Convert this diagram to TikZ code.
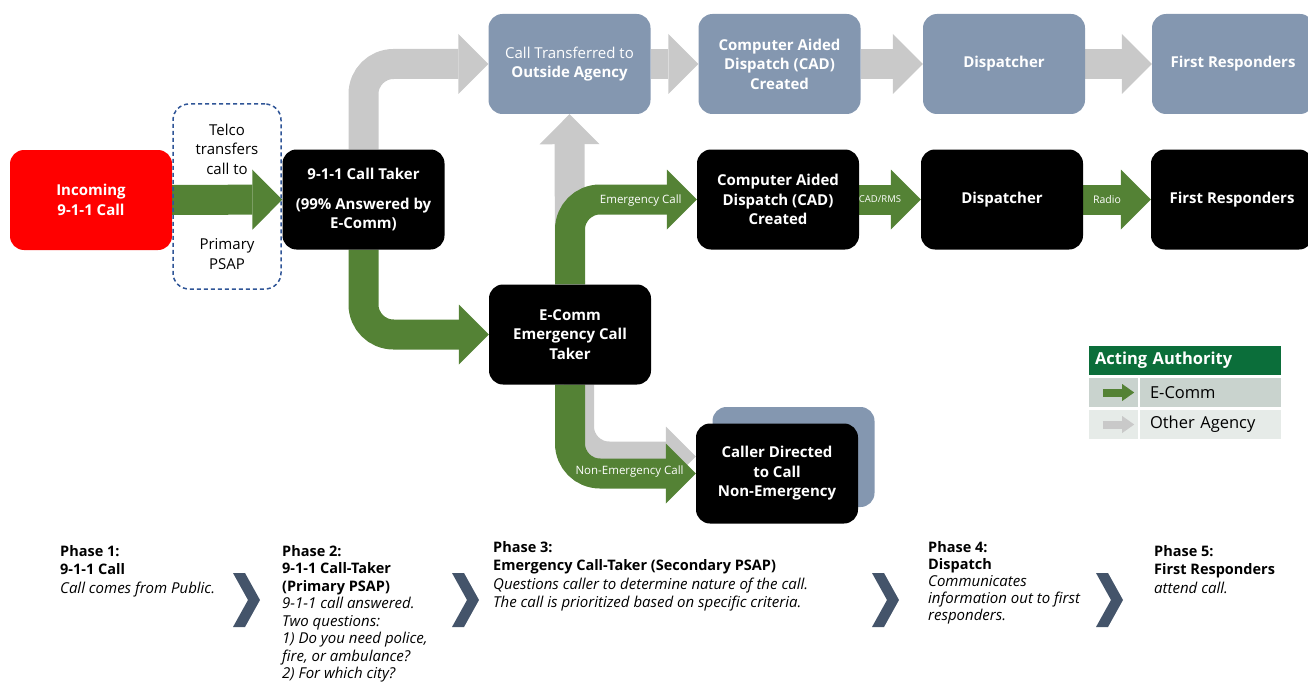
\documentclass[tikz,border=0pt]{standalone}
\usepackage{fontspec}
\setmainfont{Open Sans}
\usetikzlibrary{arrows.meta,calc}

\definecolor{ecommgreen}{HTML}{548235}
\definecolor{agencygray}{HTML}{C9C9C9}
\definecolor{agencyblue}{HTML}{8497B0}
\definecolor{psapblue}{HTML}{2F5597}
\definecolor{chevroncolor}{HTML}{44546A}
\definecolor{legendhead}{HTML}{0B6E3A}
\definecolor{legendrowa}{HTML}{C9D3CE}
\definecolor{legendrowb}{HTML}{E6EBE8}
\definecolor{callred}{HTML}{FF0000}

\pgfdeclarelayer{arrows}
\pgfsetlayers{arrows,main}

\newcommand{\phasenote}[1]{{\fontsize{15}{18.5}\selectfont\itshape #1}}

\tikzset{
  box/.style={rectangle, rounded corners=14pt, minimum width=162pt, minimum height=100pt,
    inner sep=2pt, align=center, text=white, font=\fontsize{15}{19.5}\selectfont\bfseries},
  ecommbox/.style={box, fill=black},
  agencybox/.style={box, fill=agencyblue},
  flow/.style={line width=30pt, rounded corners=30pt,
    -{Triangle[width=60pt, length=30pt, line width=0pt]}},
  greenflow/.style={flow, draw=ecommgreen},
  grayflow/.style={flow, draw=agencygray},
  flowlabel/.style={text=white, inner sep=0pt, font=\fontsize{11.5}{13}\selectfont},
  keycell/.style={rectangle, inner sep=0pt, minimum height=29pt},
  keytext/.style={keycell, minimum width=141pt, text width=121pt, align=left,
    font=\fontsize{16.5}{19}\selectfont},
  phase/.style={anchor=north west, align=left, inner sep=0pt, font=\fontsize{14.5}{18.5}\selectfont},
}

\begin{document}
\begin{tikzpicture}[x=1pt, y=-1pt]
  \useasboundingbox (0,0) rectangle (1308,682);

  \node[box, fill=callred] (incoming) at (91,200) {Incoming\\9-1-1 Call};
  \node[draw=psapblue, dash pattern=on 4pt off 3pt, line width=1.5pt, rounded corners=16pt,
    minimum width=108pt, minimum height=185pt, align=center,
    font=\fontsize{15}{19.5}\selectfont] (psap) at (227,196.5)
    {Telco\\transfers\\call to\\[56pt]Primary\\PSAP};
  \node[ecommbox] (taker) at (363.5,199.5) {9-1-1 Call Taker\\[10pt](99\% Answered by\\E-Comm)};
  \node[ecommbox] (ecomm) at (570,334.5) {E-Comm\\Emergency Call\\Taker};

  \node[agencybox] (transfer) at (569.5,64) {{\mdseries Call Transferred to}\\Outside Agency};
  \node[agencybox] (cadt) at (779.5,64) {Computer Aided\\Dispatch (CAD)\\Created};
  \node[agencybox] (dispt) at (1004,64) {Dispatcher};
  \node[agencybox] (firstt) at (1233,64) {First Responders};

  \node[ecommbox] (cadm) at (778,199.5) {Computer Aided\\Dispatch (CAD)\\Created};
  \node[ecommbox] (dispm) at (1002,199.5) {Dispatcher};
  \node[ecommbox] (firstm) at (1232,199.5) {First Responders};

  \node[agencybox] (callershadow) at (793.5,457) {};
  \node[ecommbox] (caller) at (777,473.5) {Caller Directed\\to Call\\Non-Emergency};

  \begin{pgfonlayer}{arrows}
    \draw[grayflow] (taker.north) |- (transfer.west);
    \draw[grayflow] (ecomm.north) -- (transfer.south);
    \draw[grayflow] ($(ecomm.south)+(9,0)$) |- ($(caller.west)+(0,-17)$);
    \draw[grayflow] (transfer) -- (cadt);
    \draw[grayflow] (cadt) -- (dispt);
    \draw[grayflow] (dispt) -- (firstt);

    \draw[greenflow] (incoming) -- (taker);
    \draw[greenflow] (taker.south) |- (ecomm.west);
    \draw[greenflow] (ecomm.north) |- (cadm.west);
    \draw[greenflow] (ecomm.south) |- (caller.west);
    \draw[greenflow] (cadm) -- (dispm)
      node[flowlabel, midway, xshift=-10pt, font=\fontsize{9.5}{11}\selectfont] {CAD/RMS};
    \draw[greenflow] (dispm) -- (firstm)
      node[flowlabel, midway, xshift=-10pt, font=\fontsize{10.5}{12}\selectfont] {Radio};
  \end{pgfonlayer}

  \node[flowlabel, anchor=east] (emlabel) at ($(cadm.west)+(-15,1)$) {Emergency Call};
  \node[flowlabel, anchor=east] (nonemlabel) at ($(caller.west)+(-12,-2)$) {Non-Emergency Call};

  \node[keycell, fill=legendhead, minimum width=192pt, text width=180pt, align=left,
    text=white, font=\fontsize{16.5}{19}\selectfont\bfseries] (legend) at (1185,360.5) {Acting Authority};
  \node[keycell, fill=legendrowa, minimum width=49pt] (keyecomm) at (1113.5,392.5) {};
  \node[keytext, fill=legendrowa] (keyecommtext) at (1210.5,392.5) {E-Comm};
  \node[keycell, fill=legendrowb, minimum width=49pt] (keyother) at (1113.5,424.5) {};
  \node[keytext, fill=legendrowb] (keyothertext) at (1210.5,424.5) {Other Agency};
  \draw[ecommgreen, line width=8pt, -{Triangle[width=17pt, length=12pt, line width=0pt]}]
    ($(keyecomm.west)+(14,0)$) -- ($(keyecomm.east)+(-4,0)$);
  \draw[agencygray, line width=8pt, -{Triangle[width=17pt, length=12pt, line width=0pt]}]
    ($(keyother.west)+(14,0)$) -- ($(keyother.east)+(-4,0)$);

  \foreach \x in {233,452,872,1096} {
    \fill[chevroncolor] (\x,573) -- (\x+12,573) -- (\x+27,600) -- (\x+12,627) -- (\x,627) -- (\x+15,600) -- cycle;
  }

  \node[phase] (phaseone) at (60,545) {\textbf{Phase 1:}\\\textbf{9-1-1 Call}\\\phasenote{Call comes from Public.}};
  \node[phase, font=\fontsize{14.5}{17.5}\selectfont] (phasetwo) at (282,545)
    {\textbf{Phase 2:}\\\textbf{9-1-1 Call-Taker}\\\textbf{(Primary PSAP)}\\
    \phasenote{9-1-1 call answered.}\\\phasenote{Two questions:}\\\phasenote{1) Do you need police,}\\
    \phasenote{fire, or ambulance?}\\\phasenote{2) For which city?}};
  \node[phase] (phasethree) at (493,541) {\textbf{Phase 3:}\\\textbf{Emergency Call-Taker (Secondary PSAP)}\\
    \phasenote{Questions caller to determine nature of the call.}\\
    \phasenote{The call is prioritized based on specific criteria.}};
  \node[phase, font=\fontsize{14.5}{17}\selectfont] (phasefour) at (928,541)
    {\textbf{Phase 4:}\\\textbf{Dispatch}\\\phasenote{Communicates}\\
    \phasenote{information out to first}\\\phasenote{responders.}};
  \node[phase] (phasefive) at (1154,545) {\textbf{Phase 5:}\\\textbf{First Responders}\\\phasenote{attend call.}};
\end{tikzpicture}
\end{document}
